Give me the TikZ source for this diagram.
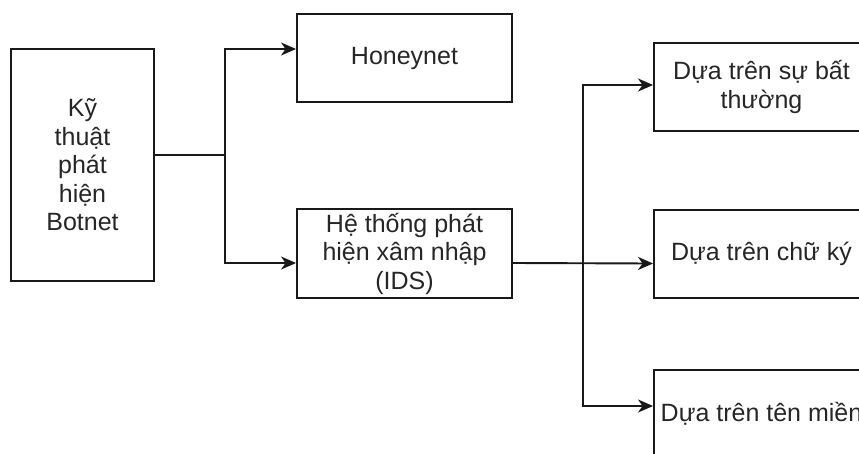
\documentclass[tikz,border=0pt]{standalone}
\usepackage{fontspec}
\setmainfont{Liberation Sans}
\usetikzlibrary{arrows.meta}
\begin{document}
\begin{tikzpicture}[x=1pt,y=-1pt,
  box/.style={draw=black!90,line width=1.9pt,rectangle,align=center,
    text=black!85,inner sep=2pt,
    font=\fontsize{25}{28.5}\selectfont},
  link/.style={draw=black!90,line width=1.9pt},
  arr/.style={link,-{Stealth[length=15pt,width=13pt,inset=4.5pt]}}]
\useasboundingbox (0,0) rectangle (859,453);
\clip (0,0) rectangle (859,453);

% root and first level
\node[box,minimum width=143pt,minimum height=232pt] (root) at (82.5,165) {Kỹ\\thuật\\phát\\hiện\\Botnet};
\node[box,minimum width=215pt,minimum height=88pt] (hon) at (404.5,58) {Honeynet};
\node[box,minimum width=215pt,minimum height=89pt] (ids) at (404.5,253.5) {Hệ thống phát\\hiện xâm nhập\\(IDS)};

% IDS sub-types
\node[box,minimum width=215pt,minimum height=88pt] (r1) at (761.5,87) {Dựa trên sự bất\\thường};
\node[box,minimum width=215pt,minimum height=88pt] (r2) at (761.5,254) {Dựa trên chữ ký};
\node[box,minimum width=215pt,minimum height=88pt] (r3) at (761.5,414) {Dựa trên tên miền};

% connectors from the root
\coordinate (j1) at (225,155);
\draw[link] ([yshift=10pt]root.east) -- (j1);
\draw[arr] (j1) |- ([yshift=9pt]hon.west);
\draw[arr] (j1) |- ([yshift=-9.5pt]ids.west);

% connectors from IDS
\coordinate (j2) at (583,263);
\draw[arr] ([yshift=-9.5pt]ids.east) -- ([yshift=-9.5pt]r2.west);
\draw[arr] (j2) |- ([yshift=2pt]r1.west);
\draw[arr] (j2) |- ([yshift=8pt]r3.west);
\end{tikzpicture}
\end{document}
